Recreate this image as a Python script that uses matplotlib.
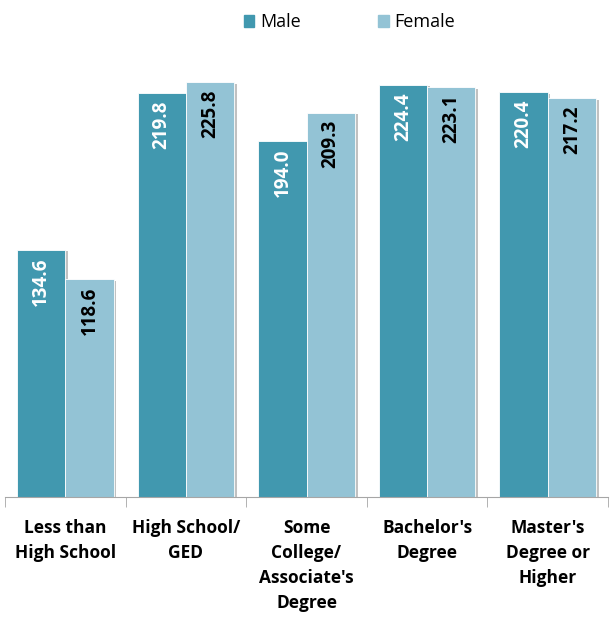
import numpy as np
import matplotlib
matplotlib.use('Agg')
from matplotlib import pyplot as plt
from matplotlib import patheffects as pe
from matplotlib.patches import Patch

categories = ['Less than\nHigh School', 'High School/\nGED', 'Some\nCollege/\nAssociate\'s\nDegree',
              'Bachelor\'s\nDegree', 'Master\'s\nDegree or\nHigher']
male = [134.6, 219.8, 194.0, 224.4, 220.4]
female = [118.6, 225.8, 209.3, 223.1, 217.2]

plt.rcParams['font.family'] = ['Open Sans', 'DejaVu Sans']

fig = plt.figure(figsize=(6.13, 6.18), dpi=100)
ax = fig.add_axes([5/613, 121/618, 603/613, 459/618])

x = np.arange(len(categories))
w = 0.4
shadow = [pe.SimplePatchShadow(offset=(2, -1), shadow_rgbFace='#999999', alpha=0.6), pe.Normal()]
ax.bar(x - w/2, male, w, color='#4198AF', edgecolor='white', linewidth=0.6, path_effects=shadow)
ax.bar(x + w/2, female, w, color='#93C3D5', edgecolor='white', linewidth=0.6, path_effects=shadow)

for xi, v in zip(x - w/2, male):
    ax.text(xi, v - 4, '%.1f' % v, rotation=90, ha='center', va='top', color='white',
            fontsize=13.5, fontweight='bold')
for xi, v in zip(x + w/2, female):
    ax.text(xi, v - 4, '%.1f' % v, rotation=90, ha='center', va='top', color='black',
            fontsize=13.5, fontweight='bold')

ax.set_xlim(-0.5, len(categories) - 0.5)
ax.set_ylim(0, 250)
ax.set_yticks([])
ax.set_xticks(x)
ax.set_xticklabels(categories, fontsize=12.5, fontweight='bold', linespacing=1.5)
ax.tick_params(axis='x', which='major', length=0, pad=16)
ax.set_xticks(np.arange(-0.5, len(categories)), minor=True)
ax.tick_params(axis='x', which='minor', length=7, color='#A6A6A6', direction='out')
for s in ['top', 'right', 'left']:
    ax.spines[s].set_visible(False)
ax.spines['bottom'].set_color('#A6A6A6')

handles = [Patch(color='#4198AF'), Patch(color='#93C3D5')]
fig.legend(handles=handles, labels=['Male', 'Female'], loc='upper center',
           bbox_to_anchor=(0.57, 1.005), ncol=2, frameon=False, fontsize=13,
           handlelength=0.6, handleheight=0.6, handletextpad=0.3, columnspacing=4.3)

fig.savefig('out.png', dpi=100)
